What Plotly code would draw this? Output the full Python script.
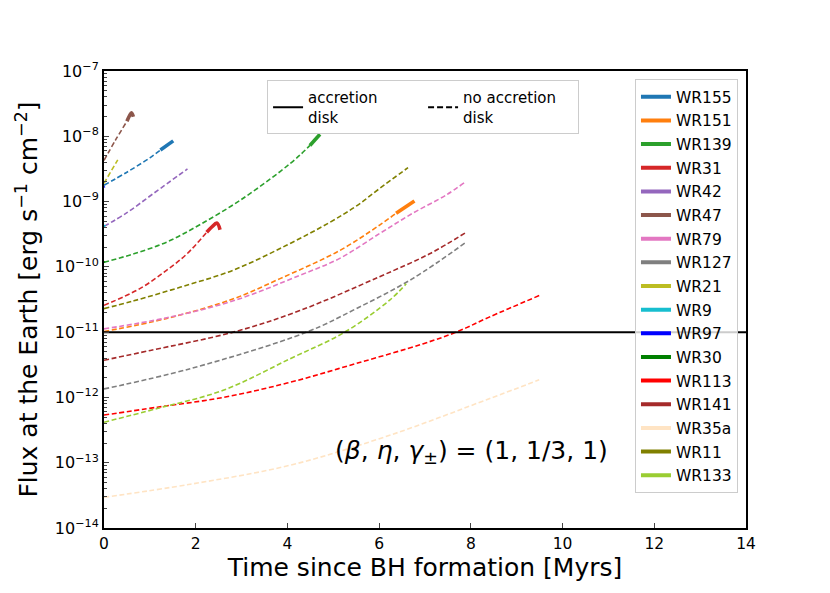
import plotly.graph_objects as go

# time since BH formation [Myr] and log10 flux [erg s^-1 cm^-2]
# disk_* = index from which the accretion disk phase (solid, thick) starts; None = never
t_wr155 = [0, 0.5, 1.0, 1.23, 1.51]
logf_wr155 = [-8.75, -8.55, -8.33, -8.21, -8.07]
disk_wr155 = 3

t_wr151 = [0, 1.37, 2.82, 3.84, 5.14, 6.01, 6.37, 6.77]
logf_wr151 = [-10.99, -10.79, -10.49, -10.18, -9.75, -9.36, -9.18, -8.99]
disk_wr151 = 6

t_wr139 = [0, 0.65, 1.37, 2.1, 2.97, 3.84, 4.27, 4.49, 4.71]
logf_wr139 = [-9.93, -9.80, -9.62, -9.35, -8.98, -8.54, -8.29, -8.14, -7.97]
disk_wr139 = 7

t_wr31 = [0, 0.79, 1.37, 1.81, 2.24, 2.35, 2.46, 2.53]
logf_wr31 = [-10.59, -10.33, -10.05, -9.80, -9.47, -9.39, -9.33, -9.43]
disk_wr31 = 4

t_wr42 = [0, 0.5, 1.09, 1.82]
logf_wr42 = [-9.38, -9.17, -8.87, -8.50]

t_wr47 = [0, 0.25, 0.5, 0.56, 0.6, 0.64]
logf_wr47 = [-8.37, -8.06, -7.77, -7.68, -7.64, -7.70]
disk_wr47 = 2

t_wr79 = [0, 1.37, 2.82, 4.27, 5.14, 6.01, 6.73, 7.46, 7.86]
logf_wr79 = [-10.95, -10.78, -10.52, -10.13, -9.87, -9.49, -9.18, -8.90, -8.71]

t_wr127 = [0, 1.88, 4.42, 5.5, 6.73, 7.9]
logf_wr127 = [-11.87, -11.56, -11.0, -10.64, -10.18, -9.62]

t_wr21 = [0, 0.3]
logf_wr21 = [-8.72, -8.36]

t_wr9 = [0, 0.03]
logf_wr9 = [-9.38, -9.36]

t_wr97 = [0, 0.02]
logf_wr97 = [-8.78, -8.77]

t_wr30 = [0, 0.02]
logf_wr30 = [-9.93, -9.92]

t_wr113 = [0, 1.16, 2.6, 4.05, 5.5, 6.95, 7.68, 8.4, 9.49]
logf_wr113 = [-12.27, -12.15, -12.0, -11.77, -11.48, -11.18, -11.0, -10.77, -10.44]

t_wr141 = [0, 1.01, 2.82, 4.27, 6.01, 7.1, 7.9]
logf_wr141 = [-11.43, -11.28, -11.0, -10.67, -10.15, -9.80, -9.47]

t_wr35a = [0, 1.88, 4.05, 6.23, 8.4, 9.49]
logf_wr35a = [-13.53, -13.33, -13.04, -12.58, -12.02, -11.73]

t_wr11 = [0, 0.65, 1.67, 2.82, 3.98, 4.92, 5.5, 6.01, 6.63]
logf_wr11 = [-10.64, -10.52, -10.31, -10.05, -9.67, -9.32, -9.07, -8.80, -8.48]

t_wr133 = [0, 1.16, 2.6, 4.05, 5.25, 6.23, 6.59]
logf_wr133 = [-12.38, -12.17, -11.89, -11.41, -11.0, -10.51, -10.26]

threshold_flux = 1e-11

stars = [
    ("WR155", "#1f77b4", t_wr155, logf_wr155, disk_wr155),
    ("WR151", "#ff7f0e", t_wr151, logf_wr151, disk_wr151),
    ("WR139", "#2ca02c", t_wr139, logf_wr139, disk_wr139),
    ("WR31", "#d62728", t_wr31, logf_wr31, disk_wr31),
    ("WR42", "#9467bd", t_wr42, logf_wr42, None),
    ("WR47", "#8c564b", t_wr47, logf_wr47, disk_wr47),
    ("WR79", "#e377c2", t_wr79, logf_wr79, None),
    ("WR127", "#7f7f7f", t_wr127, logf_wr127, None),
    ("WR21", "#bcbd22", t_wr21, logf_wr21, None),
    ("WR9", "#17becf", t_wr9, logf_wr9, None),
    ("WR97", "#0000ff", t_wr97, logf_wr97, None),
    ("WR30", "#008000", t_wr30, logf_wr30, None),
    ("WR113", "#ff0000", t_wr113, logf_wr113, None),
    ("WR141", "#a52a2a", t_wr141, logf_wr141, None),
    ("WR35a", "#ffe4c4", t_wr35a, logf_wr35a, None),
    ("WR11", "#808000", t_wr11, logf_wr11, None),
    ("WR133", "#9acd32", t_wr133, logf_wr133, None),
]

FONT = "DejaVu Sans"
fig = go.Figure()

for name, color, t, logf, disk in stars:
    flux = [10 ** v for v in logf]
    end = len(t) if disk is None else disk + 1
    fig.add_trace(go.Scatter(x=t[:end], y=flux[:end], mode="lines", showlegend=False,
                             line=dict(color=color, width=1.6, dash="5px,2.6px", shape="spline")))
    if disk is not None:
        fig.add_trace(go.Scatter(x=t[disk:], y=flux[disk:], mode="lines", showlegend=False,
                                 line=dict(color=color, width=3.6, shape="spline")))
    # legend entry (solid line)
    fig.add_trace(go.Scatter(x=[None], y=[None], mode="lines", name=name, legend="legend2",
                             legendgroup=name, line=dict(color=color, width=4)))

xrange = [0, 14]
fig.add_trace(go.Scatter(x=xrange, y=[threshold_flux, threshold_flux], mode="lines",
                         showlegend=False, line=dict(color="black", width=2)))

fig.add_trace(go.Scatter(x=[None], y=[None], mode="lines", name="accretion<br>disk",
                         legend="legend", line=dict(color="black", width=2)))
fig.add_trace(go.Scatter(x=[None], y=[None], mode="lines", name="no accretion<br>disk",
                         legend="legend", line=dict(color="black", width=2, dash="6px,3px")))

ytick_vals = [10.0 ** e for e in range(-14, -6)]
ytick_text = [f"10<sup>−{-e}</sup>" for e in range(-14, -6)]

# page is drawn with an 8px body margin, so the margins are shifted by that much
fig.update_layout(
    width=830, height=593,
    margin=dict(l=96, r=92, t=63, b=73),
    plot_bgcolor="white", paper_bgcolor="white",
    font=dict(family=FONT, color="black", size=15),
    xaxis=dict(range=xrange, tickvals=list(range(0, 15, 2)), ticks="inside", ticklen=5,
               tickwidth=1, showline=True, linecolor="black", linewidth=2, mirror=True,
               showgrid=False, zeroline=False, tickfont=dict(size=15.5),
               title=dict(text="Time since BH formation [Myrs]", font=dict(size=25), standoff=4)),
    yaxis=dict(type="log", range=[-14, -7], tickvals=ytick_vals, ticktext=ytick_text,
               ticks="inside", ticklen=5, tickwidth=1, showline=True, linecolor="black",
               linewidth=2, mirror=True, showgrid=False, zeroline=False, tickfont=dict(size=16),
               minor=dict(ticks="inside", ticklen=3, tickwidth=1, dtick="D1", showgrid=False),
               title=dict(text="Flux at the Earth [erg s<sup>−1</sup> cm<sup>−2</sup>]",
                          font=dict(size=25), standoff=10)),
    legend=dict(x=0.254, y=0.98, xanchor="left", yanchor="top", orientation="h",
                bgcolor="rgba(255,255,255,0.8)", bordercolor="#cccccc", borderwidth=1,
                font=dict(size=15), entrywidth=110),
    legend2=dict(x=0.9875, y=0.982, xanchor="right", yanchor="top",
                 bgcolor="rgba(255,255,255,0.8)", bordercolor="#cccccc", borderwidth=1,
                 font=dict(size=15.5), tracegroupgap=0.5),
    annotations=[dict(x=0.572, y=0.127, xref="paper", yref="paper", showarrow=False,
                      text="(<i>β</i>, <i>η</i>, <i>γ</i><sub>±</sub>) = (1, 1/3, 1)",
                      font=dict(size=25))],
)

fig.write_html("out.html")
